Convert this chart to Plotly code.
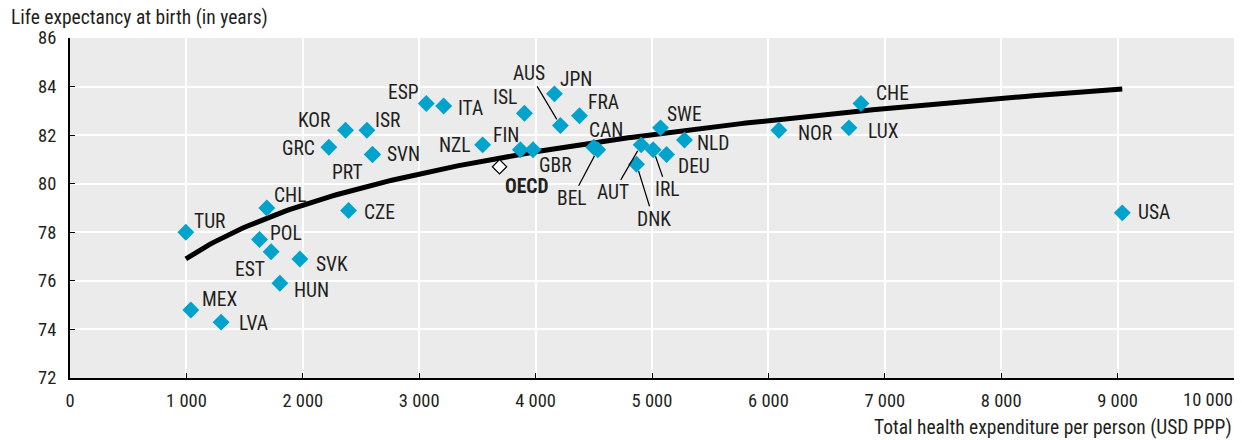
import numpy as np
import plotly.graph_objects as go

# ---- data ----
countries = ["TUR", "MEX", "LVA", "CHL", "POL", "EST", "SVK", "HUN", "CZE", "GRC",
             "KOR", "ISR", "PRT", "SVN", "ESP", "ITA", "ISL", "NZL", "FIN", "GBR",
             "AUS", "JPN", "FRA", "CAN", "BEL", "AUT", "IRL", "DEU", "DNK", "NLD",
             "SWE", "NOR", "CHE", "LUX", "USA"]
spending = [995, 1038, 1298, 1691, 1628, 1728, 1975, 1803, 2393, 2224,
            2367, 2551, 2600, 2597, 3061, 3210, 3904, 3545, 3869, 3978,
            4213, 4162, 4377, 4500, 4534, 4907, 5010, 5125, 4867, 5279,
            5073, 6090, 6795, 6692, 9040]
life_exp = [78.0, 74.8, 74.3, 79.0, 77.7, 77.2, 76.9, 75.9, 78.9, 81.5,
            82.2, 82.2, 81.2, 81.2, 83.3, 83.2, 82.9, 81.6, 81.4, 81.4,
            82.4, 83.7, 82.8, 81.5, 81.4, 81.6, 81.4, 81.2, 80.8, 81.8,
            82.3, 82.2, 83.3, 82.3, 78.8]
oecd_label = "OECD"
oecd_spending = [3690]
oecd_life_exp = [80.7]

x_ticks = [0, 1000, 2000, 3000, 4000, 5000, 6000, 7000, 8000, 9000, 10000]
x_tick_text = ["0", "1 000", "2 000", "3 000", "4 000", "5 000", "6 000",
               "7 000", "8 000", "9 000", "10 000"]
y_ticks = [72, 74, 76, 78, 80, 82, 84, 86]

# ---- label placement (style) ----
# plain labels: (xanchor, dx px, dy px up)
label_pos = {
    "TUR": ("left", 6, 11), "MEX": ("left", 9, 11), "LVA": ("left", 16, -1),
    "CHL": ("left", 5, 13), "POL": ("left", 8, 6), "EST": ("right", -4, -18),
    "SVK": ("left", 14, -5), "HUN": ("left", 12, -7), "CZE": ("left", 13, -2),
    "GRC": ("right", -12, -1), "KOR": ("right", -13, 10), "ISR": ("left", 6, 10),
    "SVN": ("left", 13, 0), "PRT": ("right", -8, -18), "ESP": ("right", -5, 11),
    "ITA": ("left", 12, -2), "ISL": ("right", -5, 16), "NZL": ("right", -10, -1),
    "FIN": ("right", 1, 14), "GBR": ("left", 4, -16), "JPN": ("left", 4, 14),
    "FRA": ("left", 7, 13), "CAN": ("center", 12, 17), "SWE": ("left", 4, 13),
    "NLD": ("left", 11, -3), "DEU": ("left", 9, -12), "NOR": ("left", 17, -3),
    "CHE": ("left", 13, 10), "LUX": ("left", 17, -4), "USA": ("left", 14, 0),
}
# leader-line labels: (ax, ay) offsets of text centre from point, px
leader_pos = {"AUS": (-31, -52), "BEL": (-26, 49), "AUT": (-28, 48),
              "IRL": (14, 40), "DNK": (17, 55)}

FONT = "Liberation Sans Narrow, Roboto Condensed, Arial Narrow, Roboto, sans-serif"
TXT = "#231f20"
BLUE = "#00a3cc"
LBL = 19.5
TICK = 18.5

# trend line: log fit on country data
coef = np.polyfit(np.log(spending), life_exp, 1)
trend_x = np.linspace(min(spending), max(spending), 200)
trend_y = coef[0] * np.log(trend_x) + coef[1]

fig = go.Figure()
fig.add_trace(go.Scatter(x=trend_x, y=trend_y, mode="lines",
                         line=dict(color="#000000", width=5), hoverinfo="skip",
                         showlegend=False))
fig.add_trace(go.Scatter(x=spending, y=life_exp, mode="markers", text=countries,
                         marker=dict(symbol="diamond", size=13, color=BLUE,
                                     line=dict(width=0)),
                         showlegend=False))
fig.add_trace(go.Scatter(x=oecd_spending, y=oecd_life_exp, mode="markers",
                         marker=dict(symbol="diamond", size=11, color="#ffffff",
                                     line=dict(width=1.2, color="#000000")),
                         showlegend=False))

annotations = []
for c, xv, yv in zip(countries, spending, life_exp):
    if c in label_pos:
        anc, dx, dy = label_pos[c]
        annotations.append(dict(x=xv, y=yv, text=c, showarrow=False,
                                xanchor=anc, yanchor="middle", xshift=dx, yshift=dy,
                                font=dict(family=FONT, size=LBL, color=TXT)))
    elif c in leader_pos:
        ax, ay = leader_pos[c]
        annotations.append(dict(x=xv, y=yv, text=c, showarrow=True, arrowhead=0,
                                arrowwidth=1.2, arrowcolor="#000000", ax=ax, ay=ay,
                                standoff=7,
                                font=dict(family=FONT, size=LBL, color=TXT)))
annotations.append(dict(x=oecd_spending[0], y=oecd_life_exp[0],
                        text="<b>" + oecd_label + "</b>", showarrow=False,
                        xanchor="left", yanchor="middle", xshift=3, yshift=-20,
                        font=dict(family=FONT, size=LBL, color=TXT)))
# last x tick label is right-aligned to its tick in the reference
annotations.append(dict(x=x_ticks[-1], y=0, xref="x", yref="paper",
                        text=x_tick_text[-1], showarrow=False,
                        xanchor="right", yanchor="middle", xshift=1, yshift=-22,
                        font=dict(family=FONT, size=TICK, color=TXT)))
annotations.append(dict(xref="paper", yref="paper", x=0, y=1, xshift=-61, yshift=21,
                        xanchor="left", yanchor="middle",
                        text="Life expectancy at birth (in years)", showarrow=False,
                        font=dict(family=FONT, size=LBL, color=TXT)))
annotations.append(dict(xref="paper", yref="paper", x=1, y=0, xshift=0, yshift=-49,
                        xanchor="right", yanchor="middle",
                        text="Total health expenditure per person (USD PPP)",
                        showarrow=False,
                        font=dict(family=FONT, size=LBL, color=TXT)))

fig.update_layout(
    width=1242, height=440,
    margin=dict(l=70, r=8, t=38, b=62, autoexpand=False),
    paper_bgcolor="#ffffff", plot_bgcolor="#ebebeb",
    annotations=annotations,
    font=dict(family=FONT, size=18, color=TXT),
    showlegend=False,
)
fig.update_xaxes(range=[0, 10000], tickvals=x_ticks,
                 ticktext=x_tick_text[:-1] + [""],
                 showgrid=True, gridcolor="#ffffff", gridwidth=2,
                 showline=True, linecolor="#000000", linewidth=2,
                 ticks="inside", ticklen=5, tickcolor="#000000", tickwidth=1,
                 zeroline=False, automargin=False, ticklabelstandoff=5,
                 tickfont=dict(family=FONT, size=TICK, color=TXT))
fig.update_yaxes(range=[72, 86], tickvals=y_ticks,
                 showgrid=True, gridcolor="#ffffff", gridwidth=2,
                 showline=True, linecolor="#000000", linewidth=2,
                 ticks="inside", ticklen=5, tickcolor="#000000", tickwidth=1,
                 zeroline=False, automargin=False, ticklabelstandoff=8,
                 tickfont=dict(family=FONT, size=TICK, color=TXT))

fig.write_html("out.html", config={"displayModeBar": False},
               post_script="document.body.style.margin='0';"
                           "document.body.style.overflow='hidden';")
